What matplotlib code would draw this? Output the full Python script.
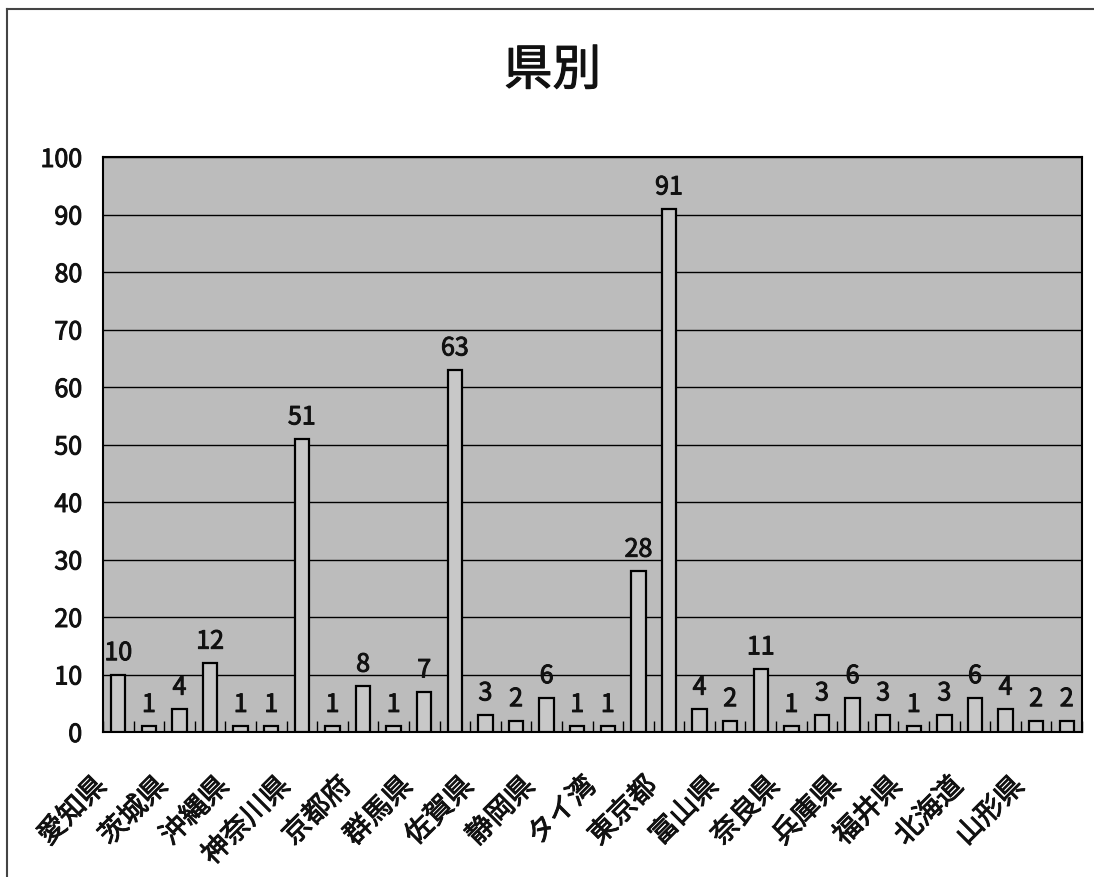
import matplotlib
matplotlib.use("Agg")
import matplotlib.pyplot as plt
import matplotlib.transforms as mtransforms
import matplotlib.patheffects as pe
from matplotlib.lines import Line2D
import numpy as np

plt.rcParams['font.family'] = ['Noto Sans CJK JP', 'DejaVu Sans']

title = "県別"
# 32 categories; only every other label is printed on the original chart
categories = ["愛知県", "", "茨城県", "", "沖縄県", "", "神奈川県", "",
              "京都府", "", "群馬県", "", "佐賀県", "", "静岡県", "",
              "タイ湾", "", "東京都", "", "富山県", "", "奈良県", "",
              "兵庫県", "", "福井県", "", "北海道", "", "山形県", ""]
values = [10, 1, 4, 12, 1, 1, 51, 1, 8, 1, 7, 63, 3, 2, 6, 1,
          1, 28, 91, 4, 2, 11, 1, 3, 6, 3, 1, 3, 6, 4, 2, 2]
yticks = [0, 10, 20, 30, 40, 50, 60, 70, 80, 90, 100]

thick = [pe.withStroke(linewidth=0.7, foreground="#111111")]

fig = plt.figure(figsize=(10.94, 8.78), dpi=100)
fig.patch.set_facecolor("white")

# outer frame (left and top lines)
fig.add_artist(Line2D([7/1094, 7/1094], [0, 1 - 10/878], transform=fig.transFigure,
                      color="#444444", lw=1.5))
fig.add_artist(Line2D([7/1094, 1], [1 - 10/878, 1 - 10/878], transform=fig.transFigure,
                      color="#444444", lw=1.5))

ax = fig.add_axes([103/1094, 1 - 733/878, (1082 - 103)/1094, (733 - 158)/878])
ax.set_facecolor("#bcbcbc")

x = np.arange(len(values))
bars = ax.bar(x, values, width=0.47, color="#c8c8c8", edgecolor="black", linewidth=1.6, zorder=3)

for xi, v in zip(x, values):
    ax.annotate(str(v), (xi, v), xytext=(0, 6), textcoords="offset points",
                ha="center", va="bottom", fontsize=18, color="#111111", zorder=4,
                path_effects=thick)

ax.set_xlim(-0.5, len(values) - 0.5)
ax.set_ylim(0, 100)
ax.set_yticks(yticks)
ax.set_yticklabels([str(t) for t in yticks], fontsize=18, color="#111111")
for lab in ax.get_yticklabels():
    lab.set_path_effects(thick)
ax.tick_params(axis="y", length=0, pad=15)
ax.yaxis.grid(True, color="black", linewidth=1.0, zorder=1)
ax.set_axisbelow(True)

# category boundary ticks (inward)
ax.set_xticks(np.arange(len(values) + 1) - 0.5, minor=True)
ax.tick_params(axis="x", which="minor", direction="in", length=8, width=1, color="black")
ax.set_xticks(x)
ax.set_xticklabels(categories, fontsize=20, rotation=45, ha="right",
                   va="top", rotation_mode="anchor", color="#111111")
ax.tick_params(axis="x", which="major", length=0, pad=28)
offset = mtransforms.ScaledTranslation(-27/100, 0, fig.dpi_scale_trans)
for lab in ax.get_xticklabels():
    lab.set_transform(lab.get_transform() + offset)
    lab.set_path_effects(thick)

for s in ax.spines.values():
    s.set_color("black")
    s.set_linewidth(1.5)

fig.text(0.505, 1 - 72/878, title, ha="center", va="center", fontsize=35,
         color="#111111", path_effects=[pe.withStroke(linewidth=0.8, foreground="#111111")])

fig.savefig("out.png", dpi=100)
